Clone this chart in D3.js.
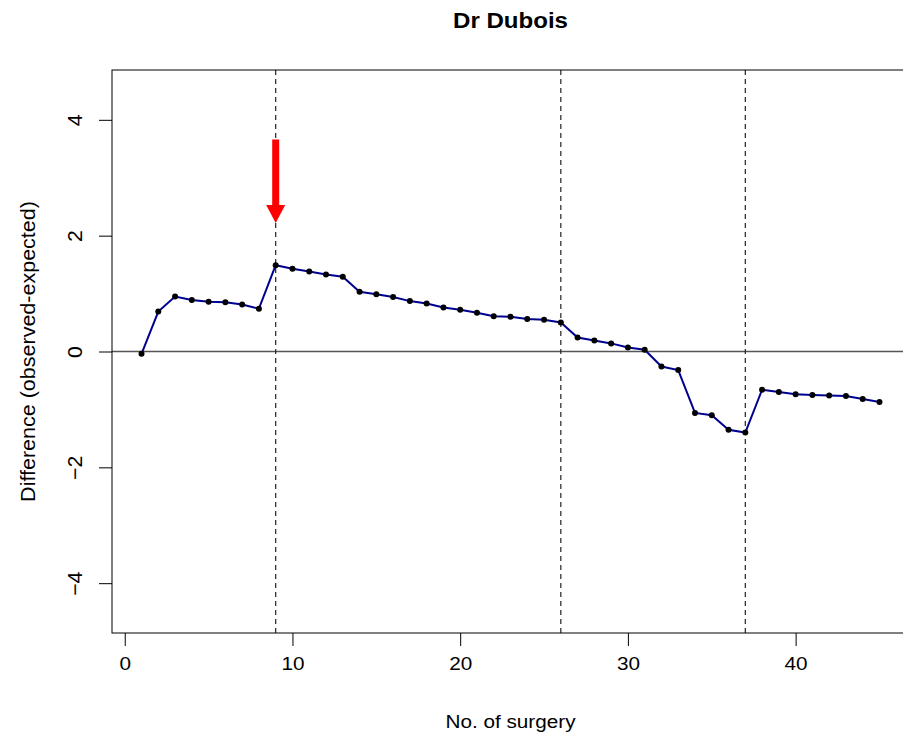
<!DOCTYPE html>
<html>
<head>
<meta charset="utf-8">
<script src="https://cdn.jsdelivr.net/npm/d3@7"></script>
<style>
  body { margin: 0; background: #fff; }
  text { font-family: "Liberation Sans", Arial, sans-serif; fill: #000; }
</style>
</head>
<body>
<div id="chart"></div>
<script>
var width = 903, height = 736;

// Data
var surgery = d3.range(1, 46);
var diff = [-0.04, 0.69, 0.95, 0.89, 0.86, 0.85, 0.81, 0.74, 1.49, 1.43,
            1.38, 1.33, 1.29, 1.03, 0.99, 0.94, 0.87, 0.83, 0.76, 0.72,
            0.67, 0.61, 0.60, 0.56, 0.55, 0.50, 0.24, 0.19, 0.14, 0.07,
            0.03, -0.26, -0.32, -1.06, -1.10, -1.35, -1.40, -0.66, -0.70, -0.74,
            -0.75, -0.76, -0.77, -0.82, -0.87];
var breakLines = [9, 26, 37];
var xTicks = [0, 10, 20, 30, 40];
var yTicks = [-4, -2, 0, 2, 4];
var arrowX = 9, arrowFrom = 3.66, arrowTo = 2.22;

// text in the picture is a bit wider than the font
var stretch = 1.12;

var x = d3.scaleLinear().domain([-0.76, 46.76]).range([112, 909]);
var y = d3.scaleLinear().domain([-4.86, 4.86]).range([633, 70]);

var svg = d3.select("#chart").append("svg")
    .attr("width", width)
    .attr("height", height);

svg.append("rect").attr("width", width).attr("height", height).attr("fill", "#fff");

// zero line
svg.append("line")
    .attr("x1", x.range()[0]).attr("x2", x.range()[1])
    .attr("y1", y(0)).attr("y2", y(0))
    .attr("stroke", "#555").attr("stroke-width", 1.5);

// dashed separators
svg.selectAll(".vline")
    .data(breakLines)
    .enter().append("line")
      .attr("class", "vline")
      .attr("x1", function(d) { return x(d); })
      .attr("x2", function(d) { return x(d); })
      .attr("y1", y.range()[1]).attr("y2", y.range()[0])
      .attr("stroke", "#222").attr("stroke-width", 1.2)
      .attr("stroke-dasharray", "5,4");

// the series
var line = d3.line()
    .x(function(d, i) { return x(surgery[i]); })
    .y(function(d) { return y(d); });

svg.append("path")
    .datum(diff)
    .attr("d", line)
    .attr("fill", "none")
    .attr("stroke", "#000090")
    .attr("stroke-width", 2);

svg.selectAll(".pt")
    .data(diff)
    .enter().append("circle")
      .attr("class", "pt")
      .attr("cx", function(d, i) { return x(surgery[i]); })
      .attr("cy", function(d) { return y(d); })
      .attr("r", 3)
      .attr("fill", "#000");

// red arrow
var headLen = 18, headHalf = 9.5;
svg.append("line")
    .attr("x1", x(arrowX)).attr("x2", x(arrowX))
    .attr("y1", y(arrowFrom)).attr("y2", y(arrowTo) - headLen + 1)
    .attr("stroke", "#ff0000").attr("stroke-width", 7);
svg.append("path")
    .attr("d", "M" + (x(arrowX) - headHalf) + "," + (y(arrowTo) - headLen) +
               "L" + (x(arrowX) + headHalf) + "," + (y(arrowTo) - headLen) +
               "L" + x(arrowX) + "," + y(arrowTo) + "Z")
    .attr("fill", "#ff0000");

// box
svg.append("rect")
    .attr("x", x.range()[0]).attr("y", y.range()[1])
    .attr("width", x.range()[1] - x.range()[0])
    .attr("height", y.range()[0] - y.range()[1])
    .attr("fill", "none").attr("stroke", "#000").attr("stroke-width", 1);

// axes
var xAxis = svg.append("g")
    .attr("transform", "translate(0," + y.range()[0] + ")")
    .call(d3.axisBottom(x).tickValues(xTicks).tickSize(13).tickFormat(d3.format("d")));
xAxis.select(".domain").remove();
xAxis.selectAll(".tick line").attr("stroke", "#000");
xAxis.selectAll(".tick text")
    .attr("y", 0).attr("dy", null)
    .attr("font-size", 18.5)
    .attr("font-family", null)
    .attr("transform", "translate(0,37) scale(" + stretch + ",1)");

var yAxis = svg.append("g")
    .attr("transform", "translate(" + x.range()[0] + ",0)")
    .call(d3.axisLeft(y).tickValues(yTicks).tickSize(13).tickFormat(d3.format("d")));
yAxis.select(".domain").remove();
yAxis.selectAll(".tick line").attr("stroke", "#000");
yAxis.selectAll(".tick text")
    .attr("x", 0).attr("dy", null)
    .attr("font-size", 18.5)
    .attr("font-family", null)
    .attr("text-anchor", "middle")
    .attr("transform", "translate(-30,0) scale(" + stretch + ",1) rotate(-90) scale(1.15,1)");

// titles
svg.append("text")
    .attr("text-anchor", "middle")
    .attr("font-weight", "bold")
    .attr("font-size", 21.5)
    .attr("transform", "translate(" + (x.range()[0] + x.range()[1]) / 2 + ",28) scale(" + stretch + ",1)")
    .text("Dr Dubois");

svg.append("text")
    .attr("text-anchor", "middle")
    .attr("font-size", 18.5)
    .attr("transform", "translate(" + (x.range()[0] + x.range()[1]) / 2 + ",728) scale(" + stretch + ",1)")
    .text("No. of surgery");

svg.append("text")
    .attr("text-anchor", "middle")
    .attr("font-size", 18.5)
    .attr("transform", "translate(35," + (y.range()[0] + y.range()[1]) / 2 + ") scale(" + stretch + ",1) rotate(-90) scale(1.163,1)")
    .text("Difference (observed-expected)");
</script>
</body>
</html>
